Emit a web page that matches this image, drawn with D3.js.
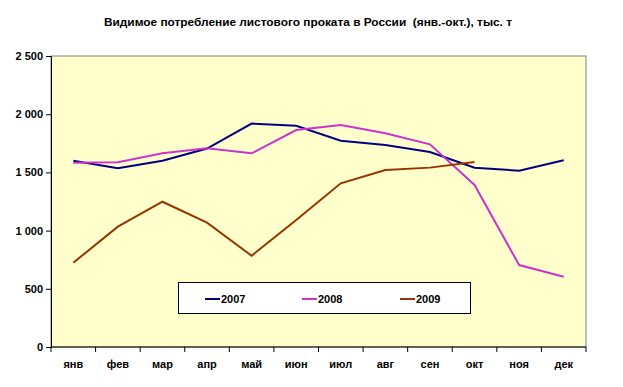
<!DOCTYPE html>
<html><head><meta charset="utf-8">
<script src="https://cdn.jsdelivr.net/npm/d3@7"></script>
<style>body{margin:0;background:#fff;}svg{display:block;font-family:"Liberation Sans",Arial,sans-serif;}</style>
</head><body><svg id="c" width="623" height="387"></svg>
<script>
const months = ["янв","фев","мар","апр","май","июн","июл","авг","сен","окт","ноя","дек"];
const s2007 = [1600,1535,1600,1705,1920,1900,1772,1735,1675,1540,1515,1605];
const s2008 = [1583,1587,1664,1707,1664,1864,1907,1836,1741,1392,704,604];
const s2009 = [724,1034,1248,1068,784,1091,1406,1521,1541,1589];
const seriesNames = ["2007","2008","2009"];
const seriesColors = ["#000080","#CC33CC","#993300"];
const yTicks = [0,500,1000,1500,2000,2500];
const title = "Видимое потребление листового проката в России\u00a0 (янв.-окт.), тыс. т";

const svg = d3.select("#c");
const L=51, R=586, T=56, B=347;
svg.append("rect").attr("x",L).attr("y",T).attr("width",R-L).attr("height",B-T).attr("fill","#FFFFCC").attr("stroke","#808080").attr("stroke-width",1);

const x = d3.scaleBand().domain(months).range([L,R]);
const y = d3.scaleLinear().domain([0,2500]).range([B,T]);

svg.append("text").attr("x",308).attr("y",26).attr("text-anchor","middle").attr("font-size",11).attr("font-weight","bold").attr("textLength",408).attr("lengthAdjust","spacingAndGlyphs").text(title);

const fmt = v => d3.format(",")(v).replace(/,/g,"\u00a0");
const ya = svg.append("g").attr("transform",`translate(${L},0)`).call(d3.axisLeft(y).tickValues(yTicks).tickSize(5).tickPadding(3).tickFormat(fmt));
ya.select(".domain").attr("stroke","#000");
ya.selectAll("text").attr("font-size",11).attr("font-weight","bold").attr("font-family","Liberation Sans, Arial").attr("fill","#000");

const xa = svg.append("g").attr("transform",`translate(0,${B})`).call(d3.axisBottom(x).tickSize(0).tickPadding(13));
xa.select(".domain").attr("stroke","#000").attr("d",`M${L},0H${R}`);
xa.selectAll("text").attr("font-size",11).attr("font-weight","bold").attr("font-family","Liberation Sans, Arial").attr("fill","#000");
const bounds = months.map(m=>x(m)).concat([R]);
svg.append("g").selectAll("line").data(bounds).join("line")
  .attr("x1",d=>d).attr("x2",d=>d).attr("y1",B).attr("y2",B+5).attr("stroke","#000");

const line = d3.line().x((d,i)=>x(months[i])+x.bandwidth()/2).y(d=>y(d));
[s2007,s2008,s2009].forEach((s,i)=>{
  svg.append("path").attr("d",line(s)).attr("fill","none").attr("stroke",seriesColors[i]).attr("stroke-width",2);
});

svg.append("rect").attr("x",178.5).attr("y",282.5).attr("width",292).attr("height",31).attr("fill","#fff").attr("stroke","#000");
const lx = [205,302,400];
seriesNames.forEach((n,i)=>{
  svg.append("line").attr("x1",lx[i]).attr("x2",lx[i]+15).attr("y1",299).attr("y2",299).attr("stroke",seriesColors[i]).attr("stroke-width",2);
  svg.append("text").attr("x",lx[i]+16).attr("y",303).attr("font-size",11).attr("font-weight","bold").attr("fill","#000").text(n);
});
</script></body></html>
